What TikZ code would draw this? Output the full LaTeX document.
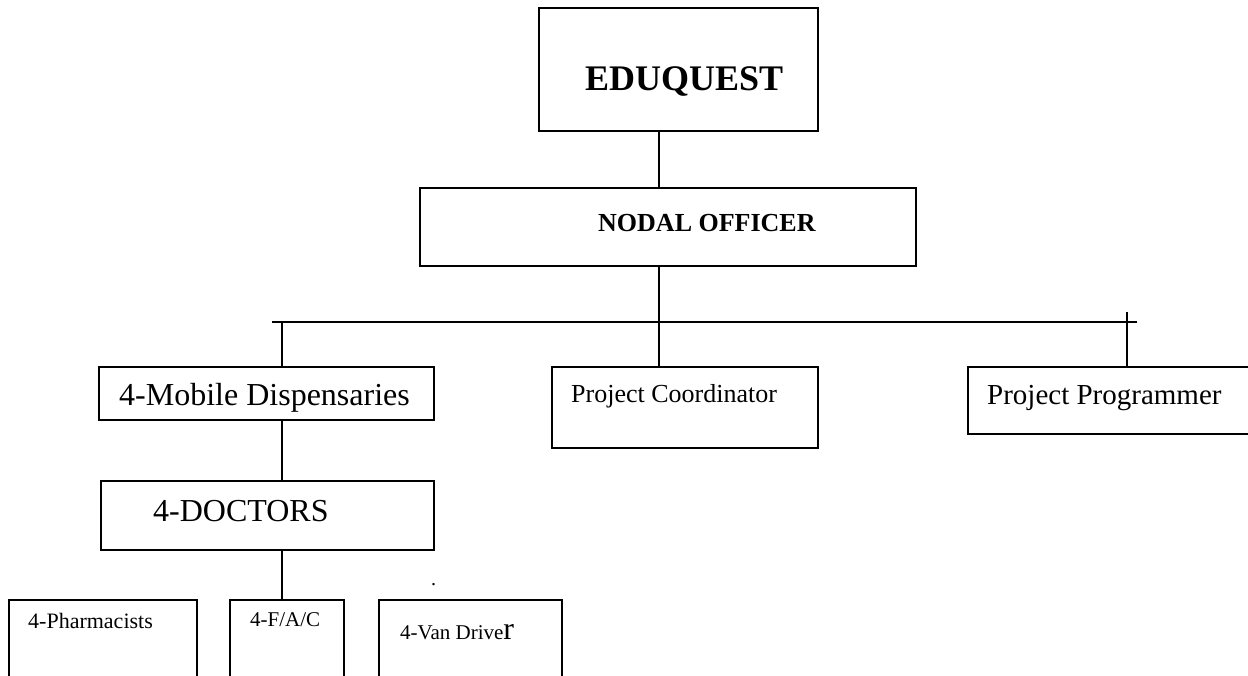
\documentclass[tikz,border=0pt]{standalone}
\usepackage{fontspec}
\setmainfont{Liberation Serif}
\begin{document}
\begin{tikzpicture}[x=1pt,y=-1pt,
  box/.style={draw=black,line width=1.8pt,inner sep=0pt,anchor=north west},
  conn/.style={draw=black,line width=1.8pt},
  lbl/.style={anchor=base west,inner sep=0pt}]
\useasboundingbox (0,0) rectangle (1248,676);
% boxes
\node[box,minimum width=279pt,minimum height=123pt] (edu) at (538,7) {};
\node[box,minimum width=496pt,minimum height=78pt] (nodal) at (419,187) {};
\node[box,minimum width=335pt,minimum height=53pt] (mob) at (98,366) {};
\node[box,minimum width=266pt,minimum height=81pt] (coord) at (551,366) {};
\node[box,minimum width=283pt,minimum height=67pt] (prog) at (967,366) {};
\node[box,minimum width=333pt,minimum height=69pt] (doc) at (100,480) {};
\node[box,minimum width=188pt,minimum height=85pt] (pharm) at (8,599) {};
\node[box,minimum width=114pt,minimum height=85pt] (fac) at (229,599) {};
\node[box,minimum width=183pt,minimum height=85pt] (van) at (378,599) {};
% texts
\node[lbl] (tedu) at (585,91) {\fontsize{36}{40}\selectfont\bfseries EDUQUEST};
\node[lbl] (tnodal) at (598,232) {\fontsize{26}{30}\selectfont\bfseries NODAL OFFICER};
\node[lbl] (tmob) at (119,406) {\fontsize{32}{36}\selectfont 4-Mobile Dispensaries};
\node[lbl] (tcoord) at (571,402) {\fontsize{26}{30}\selectfont Project Coordinator};
\node[lbl] (tprog) at (987,404) {\fontsize{29}{32}\selectfont Project Programmer};
\node[lbl] (tdoc) at (153,521) {\fontsize{32}{36}\selectfont 4-DOCTORS};
\node[lbl] (tpharm) at (28,628) {\fontsize{22}{26}\selectfont 4-Pharmacists};
\node[lbl] (tfac) at (250,626) {\fontsize{21}{25}\selectfont 4-F/A/C};
\node[lbl] (tvan) at (400,639) {\fontsize{21}{25}\selectfont 4-Van Drive{\fontsize{32}{36}\selectfont r}};
\node[lbl] (dot) at (431,585) {\fontsize{20}{24}\selectfont .};
% connector coordinates
\coordinate (cx) at (659,0);
\coordinate (mx) at (282,0);
\coordinate (busL) at (272,322);
\coordinate (busR) at (1137,322);
\coordinate (ptop) at (1127,312);
% connectors
\draw[conn] (cx |- edu.south) -- (cx |- nodal.north);
\draw[conn] (cx |- nodal.south) -- (cx |- busL);
\draw[conn] (busL) -- (busR);
\draw[conn] (mx |- busL) -- (mx |- mob.north);
\draw[conn] (cx |- busL) -- (cx |- coord.north);
\draw[conn] (ptop) -- (ptop |- prog.north);
\draw[conn] (mx |- mob.south) -- (mx |- doc.north);
\draw[conn] (mx |- doc.south) -- (mx |- fac.north);
\end{tikzpicture}
\end{document}
